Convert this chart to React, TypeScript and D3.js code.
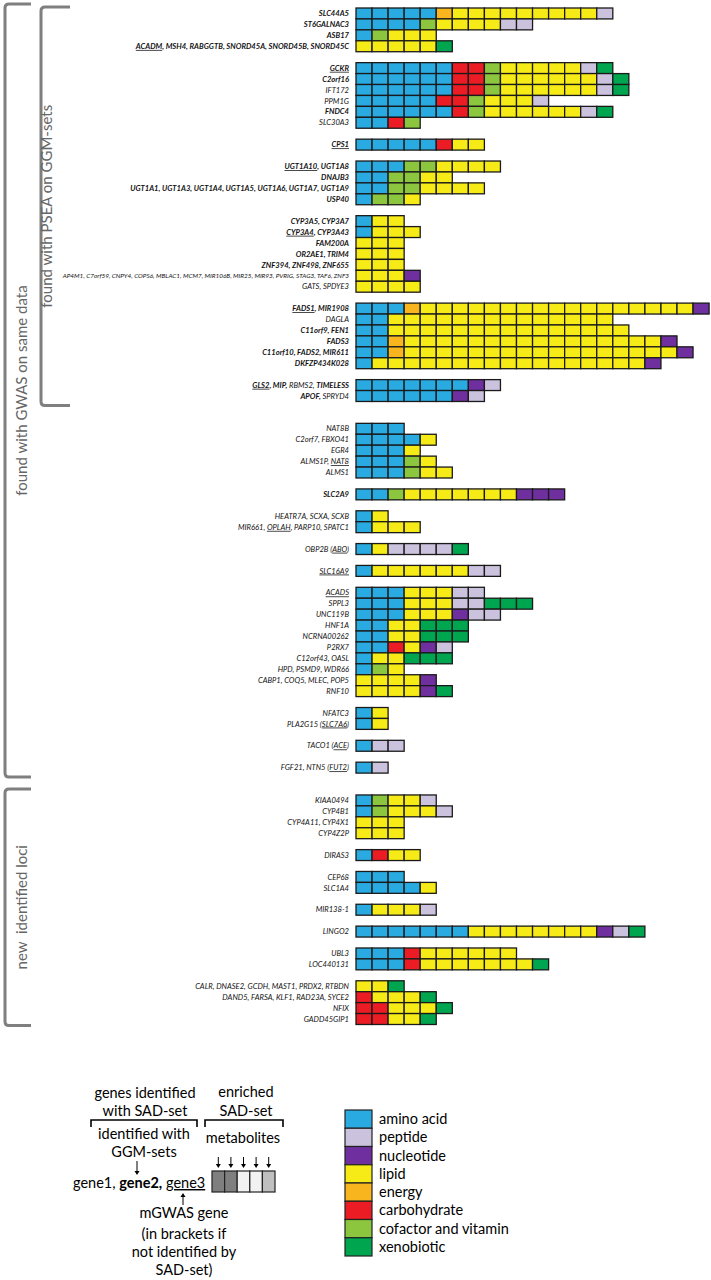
import React from 'react';
import * as d3 from 'd3';

// ---------- DATA ----------
const classNames = ['amino acid', 'peptide', 'nucleotide', 'lipid', 'energy', 'carbohydrate', 'cofactor and vitamin', 'xenobiotic'];
const classCodes = ['A', 'P', 'N', 'L', 'E', 'C', 'V', 'X'];
const classColors = ['#29ABE2', '#CBC2DD', '#6F2F9F', '#F6EB16', '#F9B51E', '#EC1C24', '#8CC63F', '#00A550'];

// '*' toggles bold, '_' toggles underline (mGWAS gene)
const geneLabels = [
  '*SLC44A5*', '*ST6GALNAC3*', '*ASB17*', '*_ACADM_, MSH4, RABGGTB, SNORD45A, SNORD45B, SNORD45C*',
  '*_GCKR_*', '*C2orf16*', 'IFT172', 'PPM1G', '*FNDC4*', 'SLC30A3',
  '*_CPS1_*',
  '*_UGT1A10_, UGT1A8*', '*DNAJB3*', '*UGT1A1, UGT1A3, UGT1A4, UGT1A5, UGT1A6, UGT1A7, UGT1A9*', '*USP40*',
  '*CYP3A5, CYP3A7*', '*_CYP3A4_, CYP3A43*', '*FAM200A*', '*OR2AE1, TRIM4*', '*ZNF394, ZNF498, ZNF655*',
  'AP4M1, C7orf59, CNPY4, COPS6, MBLAC1, MCM7, MIR106B, MIR25, MIR93, PVRIG, STAG3, TAF6, ZNF3', 'GATS, SPDYE3',
  '*_FADS1_, MIR1908*', 'DAGLA', '*C11orf9, FEN1*', '*FADS3*', '*C11orf10, FADS2, MIR611*', '*DKFZP434K028*',
  '*_GLS2_, MIP,* RBMS2, *TIMELESS*', '*APOF,* SPRYD4',
  'NAT8B', 'C2orf7, FBXO41', 'EGR4', 'ALMS1P, _NAT8_', 'ALMS1',
  '*SLC2A9*',
  'HEATR7A, SCXA, SCXB', 'MIR661, _OPLAH_, PARP10, SPATC1',
  'OBP2B (_ABO_)',
  '_SLC16A9_',
  '_ACADS_', 'SPPL3', 'UNC119B', 'HNF1A', 'NCRNA00262', 'P2RX7', 'C12orf43, OASL', 'HPD, PSMD9, WDR66', 'CABP1, COQ5, MLEC, POP5', 'RNF10',
  'NFATC3', 'PLA2G15 (_SLC7A6_)',
  'TACO1 (_ACE_)',
  'FGF21, NTN5 (_FUT2_)',
  'KIAA0494', 'CYP4B1', 'CYP4A11, CYP4X1', 'CYP4Z2P',
  'DIRAS3',
  'CEP68', 'SLC1A4',
  'MIR138-1',
  'LINGO2',
  'UBL3', 'LOC440131',
  'CALR, DNASE2, GCDH, MAST1, PRDX2, RTBDN', 'DAND5, FARSA, KLF1, RAD23A, SYCE2', 'NFIX', 'GADD45GIP1',
];

// metabolite classes of the enriched SAD-set per gene row
const metaboliteCodes = [
  'AAAAAELLLLLLLLLP', 'AAAAVLLLLPP', 'AVLLL', 'LLLLLX',
  'AAAAAACCVLLLLLPX', 'AAAAAACCVLLLLLLPX', 'AAAAAACCVLLLLLLPX', 'AAAAACCVLLLP', 'AAAAAACVLLLLLLPX', 'AACV',
  'AAAAACLL',
  'AAAVVLLLL', 'AAVVLL', 'AAVVLLLL', 'AVVL',
  'ALL', 'ALLL', 'LLL', 'LLL', 'LLL', 'LLLN', 'LLLL',
  'AAAELLLLLLLLLLLLLLLLLN', 'AALLLLLLLLLLLLLL', 'AALLLLLLLLLLLLLLL', 'AAELLLLLLLLLLLLLLLLN', 'AAELLLLLLLLLLLLLLLLLN', 'ALLLLLLLLLLLLLLLLLN',
  'AAAAAAANP', 'AAAAAANP',
  'AAA', 'AAAAL', 'AAAL', 'AAAVL', 'AAAVLL',
  'AAVLLLLLLLNNN',
  'AL', 'ALLL',
  'ALPPPPX',
  'ALLLLLLPP',
  'AAALLLPP', 'AAALLLPPXXX', 'AAALLLNPP', 'AALLXXX', 'AALLXXX', 'AACLNP', 'ALLXXX', 'AVL', 'LLLLN', 'LLLLNX',
  'AL', 'AL',
  'APP',
  'AP',
  'AVLLP', 'AVLLLP', 'LLL', 'LLL',
  'ACLL',
  'AAA', 'AAAAL',
  'ALLLP',
  'AAAAAAALLLLLLLLNPX',
  'AAACLLLLLL', 'AAACLLLLLLLX',
  'LLX', 'CLLLX', 'CCLLLX', 'CCLLX',
];

// locus group of each row, and section of each group
const rowGroup = [
  0, 0, 0, 0,
  1, 1, 1, 1, 1, 1,
  2,
  3, 3, 3, 3,
  4, 4, 4, 4, 4, 4, 4,
  5, 5, 5, 5, 5, 5,
  6, 6,
  7, 7, 7, 7, 7,
  8,
  9, 9,
  10,
  11,
  12, 12, 12, 12, 12, 12, 12, 12, 12, 12,
  13, 13,
  14,
  15,
  16, 16, 16, 16,
  17,
  18, 18,
  19,
  20,
  21, 21,
  22, 22, 22, 22,
];
const groupSection = [0, 0, 0, 0, 0, 0, 0, 1, 1, 1, 1, 1, 1, 1, 1, 1, 2, 2, 2, 2, 2, 2, 2];
const sectionTitles = ['found with PSEA on GGM-sets', 'found with GWAS on same data', 'new  identified loci'];

const headerLines1 = ['genes identified', 'with SAD-set'];
const headerLines2 = ['enriched', 'SAD-set'];
const subLines1 = ['identified with', 'GGM-sets'];
const exampleShades = ['#7f7f7f', '#7f7f7f', '#f2f2f2', '#f2f2f2', '#bfbfbf'];
const footLines = ['mGWAS gene', '(in brackets if', 'not identified by', 'SAD-set)'];

// ---------- HELPERS ----------
type Seg = { t: string; b: boolean; u: boolean };
function parseLabel(s: string): Seg[] {
  const out: Seg[] = [];
  let b = false, u = false, cur = '';
  for (const ch of s) {
    if (ch === '*' || ch === '_') {
      if (cur) out.push({ t: cur, b, u });
      cur = '';
      if (ch === '*') b = !b; else u = !u;
    } else cur += ch;
  }
  if (cur) out.push({ t: cur, b, u });
  return out;
}

const W = 711, H = 1280;
const FONT = 'Lato, "Open Sans", sans-serif';

export default function App() {
  // slot positions: one empty slot between groups, two between sections
  const slots: number[] = [];
  let s = 0;
  rowGroup.forEach((g, i) => {
    if (i > 0 && g !== rowGroup[i - 1]) {
      s += 1;
      if (groupSection[g] !== groupSection[rowGroup[i - 1]]) s += 1;
    }
    slots.push(s);
    s += 1;
  });
  const nSlots = s;
  const maxCells = d3.max(metaboliteCodes, (d) => d.length) as number;

  const y = d3.scaleBand<number>().domain(d3.range(nSlots)).range([8, 8 + nSlots * 10.93]).padding(0);
  const x = d3.scaleBand<number>().domain(d3.range(maxCells)).range([356, 356 + maxCells * 16.05]).padding(0);
  const color = d3.scaleOrdinal<string, string>().domain(classCodes).range(classColors);

  const labelX = 349;
  const rowTop = (i: number) => y(slots[i]) as number;
  const rowBot = (i: number) => (y(slots[i]) as number) + y.bandwidth();

  const sectionRows = (sec: number) => rowGroup.map((g, i) => (groupSection[g] === sec ? i : -1)).filter((i) => i >= 0);
  const sec0 = sectionRows(0), sec1 = sectionRows(1), sec2 = sectionRows(2);

  const bracketColor = '#7f7f7f';
  const bracket = (bx: number, y0: number, y1: number, w: number) =>
    `M${bx + w},${y0} L${bx + 4},${y0} Q${bx},${y0} ${bx},${y0 + 4} L${bx},${y1 - 4} Q${bx},${y1} ${bx + 4},${y1} L${bx + w},${y1}`;

  const outerTop = rowTop(sec0[0]) - 4;
  const outerBot = rowBot(sec1[sec1.length - 1]) + 4;
  const innerTop = rowTop(sec0[0]) - 1;
  const innerBot = rowBot(sec0[sec0.length - 1]) + 4;
  const newTop = rowTop(sec2[0]) - 6;
  const newBot = rowBot(sec2[sec2.length - 1]) + 1;

  const legendY = d3.scaleBand<number>().domain(d3.range(classNames.length)).range([1110, 1256]);
  const shadeX = d3.scaleBand<number>().domain(d3.range(exampleShades.length)).range([212, 275]);

  const arrowDown = (ax: number, y0: number, y1: number, key: string) => (
    <g key={key}>
      <line x1={ax} y1={y0} x2={ax} y2={y1 - 3} stroke="#000" strokeWidth={1} />
      <path d={`M${ax - 2.5},${y1 - 4} L${ax + 2.5},${y1 - 4} L${ax},${y1} Z`} fill="#000" />
    </g>
  );

  return (
    <svg width={W} height={H} style={{ position: 'absolute', left: 0, top: 0, background: '#fff' }} fontFamily={FONT}>
      {/* section brackets */}
      <path d={bracket(5, outerTop, outerBot, 26)} fill="none" stroke={bracketColor} strokeWidth={3} />
      <path d={bracket(41, innerTop, innerBot, 29)} fill="none" stroke={bracketColor} strokeWidth={3} />
      <path d={bracket(5, newTop, newBot, 26)} fill="none" stroke={bracketColor} strokeWidth={3} />
      <text transform={`translate(27,${(outerTop + outerBot) / 2}) rotate(-90)`} textAnchor="middle" fontSize={15} fill="#666">
        {sectionTitles[1]}
      </text>
      <text transform={`translate(52,${(innerTop + innerBot) / 2}) rotate(-90)`} textAnchor="middle" fontSize={15} fill="#666">
        {sectionTitles[0]}
      </text>
      <text transform={`translate(27,${(newTop + newBot) / 2}) rotate(-90)`} textAnchor="middle" fontSize={15} fill="#666" style={{ whiteSpace: 'pre' }}>
        {sectionTitles[2]}
      </text>

      {/* gene labels */}
      {geneLabels.map((lab, i) => {
        const small = lab.length > 70;
        return (
          <text
            key={'l' + i}
            x={labelX}
            y={rowTop(i) + y.bandwidth() / 2}
            dy="0.35em"
            textAnchor="end"
            fontSize={small ? 6.4 : 7.6}
            fontStyle="italic"
            fill="#111"
          >
            {parseLabel(lab).map((sg, k) => (
              <tspan key={k} fontWeight={sg.b ? 700 : 400} textDecoration={sg.u ? 'underline' : undefined}>
                {sg.t}
              </tspan>
            ))}
          </text>
        );
      })}

      {/* cells */}
      {metaboliteCodes.map((codes, i) =>
        codes.split('').map((c, j) => (
          <rect
            key={`c${i}-${j}`}
            x={x(j)}
            y={rowTop(i)}
            width={x.bandwidth()}
            height={y.bandwidth()}
            fill={color(c)}
            stroke="#1a1a1a"
            strokeWidth={1.3}
          />
        ))
      )}

      {/* explanation legend */}
      <g fontSize={14.5} fill="#000" textAnchor="middle">
        {headerLines1.map((t, k) => (
          <text key={'h1' + k} x={145} y={1098 + k * 18}>{t}</text>
        ))}
        {headerLines2.map((t, k) => (
          <text key={'h2' + k} x={246} y={1097 + k * 19}>{t}</text>
        ))}
        <path d="M91,1127 L91,1120 L197,1120 L197,1127" fill="none" stroke="#000" strokeWidth={1.6} />
        <path d="M205,1127 L205,1120 L283,1120 L283,1127" fill="none" stroke="#000" strokeWidth={1.6} />
        {subLines1.map((t, k) => (
          <text key={'s1' + k} x={144} y={1139 + k * 18}>{t}</text>
        ))}
        <text x={243} y={1143}>metabolites</text>
        {exampleShades.map((_, k) => arrowDown((shadeX(k) as number) + shadeX.bandwidth() / 2, 1157, 1168, 'a' + k))}
        {exampleShades.map((c, k) => (
          <rect key={'sh' + k} x={shadeX(k)} y={1171} width={shadeX.bandwidth()} height={21} fill={c} stroke="#222" strokeWidth={1.2} />
        ))}
        {arrowDown(137, 1161, 1175, 'ag')}
        <text x={73} y={1188} textAnchor="start">
          <tspan>gene1, </tspan>
          <tspan fontWeight={700}>gene2,</tspan>
          <tspan> </tspan>
          <tspan textDecoration="underline">gene3</tspan>
        </text>
        <line x1={183} y1={1205} x2={183} y2={1196} stroke="#000" strokeWidth={1} />
        <path d="M180.5,1197 L185.5,1197 L183,1193 Z" fill="#000" />
        {footLines.map((t, k) => (
          <text key={'f' + k} x={184} y={[1218, 1239, 1257, 1275][k]}>{t}</text>
        ))}
      </g>

      {/* colour legend */}
      <g>
        {classNames.map((n, k) => (
          <g key={'lg' + k}>
            <rect x={345} y={legendY(k)} width={27} height={legendY.bandwidth()} fill={classColors[k]} stroke="#222" strokeWidth={1.2} />
            <text x={379} y={(legendY(k) as number) + legendY.bandwidth() / 2 + 5} fontSize={14.5} fill="#000">
              {n}
            </text>
          </g>
        ))}
      </g>
    </svg>
  );
}
